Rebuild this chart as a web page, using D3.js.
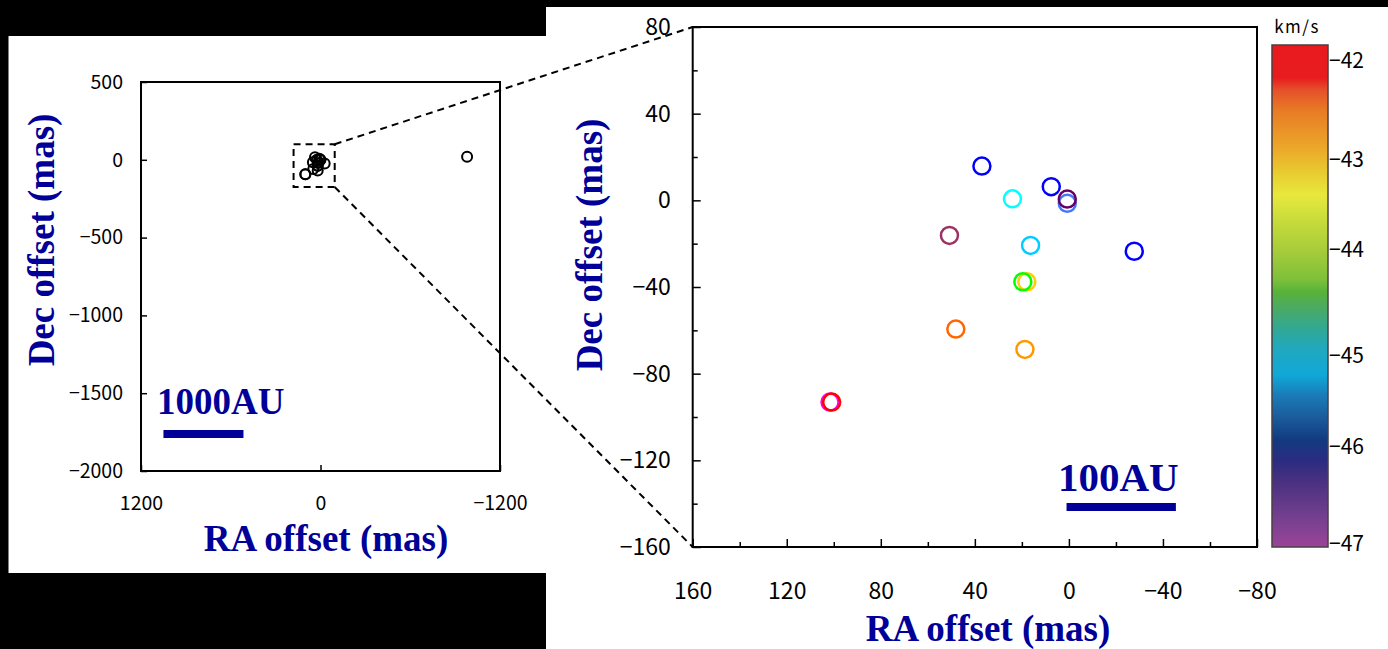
<!DOCTYPE html>
<html><head><meta charset="utf-8">
<script src="https://cdn.jsdelivr.net/npm/d3@7"></script>
<style>html,body{margin:0;padding:0;background:#000;}svg{display:block;}</style>
</head><body>
<script>
// ---- data ----
const raOffset  = [-27.8, 37.0, 24.0, 7.5, 0.7, 0.7, 50.8, 16.3, 17.9, 19.6, 48.1, 18.7, 101.6, 100.9, -980];
const decOffset = [-23.5, 15.8, 0.7, 6.3, -1.4, 0.6, -16.2, -20.8, -37.6, -37.6, -59.4, -68.8, -93.1, -93.1, 20];
const vlsr      = [-46.0, -46.0, -45.0, -46.0, -45.7, -46.5, -46.8, -45.2, -43.1, -44.3, -42.5, -42.8, -47.0, -42.0, -44.0];
const leftXTicks = [1200, 0, -1200];
const leftYTicks = [500, 0, -500, -1000, -1500, -2000];
const rightXTicks = [160, 120, 80, 40, 0, -40, -80];
const rightXMinor = [140, 100, 60, 20, -20, -60];
const rightYTicks = [80, 40, 0, -40, -80, -120, -160];
const rightYMinor = [60, 20, -20, -60, -100, -140];
const cbTicks = [-42, -43, -44, -45, -46, -47];

const W = 1388, H = 649;
const svg = d3.select("body").append("svg").attr("width", W).attr("height", H);
svg.append("rect").attr("width", W).attr("height", H).attr("fill", "#000");
svg.append("rect").attr("x", 8.5).attr("y", 36).attr("width", 546 - 8.5).attr("height", 573 - 36).attr("fill", "#fff");
svg.append("rect").attr("x", 546).attr("y", 7).attr("width", W - 546).attr("height", H - 7).attr("fill", "#fff");

const tickFont = "'Noto Sans CJK JP', 'DejaVu Sans', sans-serif";
const titleFont = "'Liberation Serif', 'Times New Roman', serif";
const navy = "#000099";

// ---- scales ----
const xL = d3.scaleLinear().domain([1200, -1200]).range([141, 500]);
const yL = d3.scaleLinear().domain([500, -2000]).range([82, 471]);
const xR = d3.scaleLinear().domain([160, -80]).range([692.7, 1257]);
const yR = d3.scaleLinear().domain([80, -160]).range([27, 547]);
const cbY = d3.scaleLinear().domain(cbTicks).range([60.5, 160, 249.5, 355.5, 446.5, 543.5]);

const markerColor = d3.scaleLinear()
  .domain([-42, -42.5, -42.8, -43.1, -44.3, -45.0, -45.2, -45.7, -46.0, -46.5, -46.8, -47.0])
  .range(["#ff0000","#ff6600","#ff9900","#ffcc00","#00ff00","#00ffff","#00ccff","#4477ff","#0000ff","#660066","#993366","#ff00ff"])
  .clamp(true);

const pts = raOffset.map((r, i) => ({ra: r, dec: decOffset[i], v: vlsr[i]}));

// ---- left panel ----
const gL = svg.append("g");
gL.append("g").attr("transform", `translate(0,${yL(-2000)})`)
  .call(d3.axisBottom(xL).tickValues(leftXTicks).tickSize(-6).tickPadding(25).tickFormat(d => String(d).replace("-", "−")))
  .call(g => g.select(".domain").remove());
gL.append("g").attr("transform", `translate(${xL(1200)},0)`)
  .call(d3.axisLeft(yL).tickValues(leftYTicks).tickSize(-6).tickPadding(18).tickFormat(d => String(d).replace("-", "−")))
  .call(g => g.select(".domain").remove());
gL.selectAll(".tick line").attr("stroke", "#000").attr("stroke-width", 1.5);
gL.selectAll(".tick text").attr("font-family", tickFont).attr("font-size", 19.5).attr("fill", "#000");
gL.append("rect").attr("x", xL(1200)).attr("y", yL(500)).attr("width", xL(-1200) - xL(1200)).attr("height", yL(-2000) - yL(500))
  .attr("fill", "none").attr("stroke", "#000").attr("stroke-width", 2);

gL.selectAll("circle.pt").data(pts).join("circle").attr("class", "pt")
  .attr("cx", d => xL(d.ra)).attr("cy", d => yL(d.dec)).attr("r", 5)
  .attr("fill", "none").attr("stroke", "#000").attr("stroke-width", 2);

// zoom box
const boxRA = [180, -95], boxDec = [100, -175];
gL.append("rect").attr("x", xL(boxRA[0])).attr("y", yL(boxDec[0]))
  .attr("width", xL(boxRA[1]) - xL(boxRA[0])).attr("height", yL(boxDec[1]) - yL(boxDec[0]))
  .attr("fill", "none").attr("stroke", "#000").attr("stroke-width", 2).attr("stroke-dasharray", "7,5");

// scale bar left
gL.append("text").attr("x", 157).attr("y", 414).text("1000AU")
  .attr("font-family", titleFont).attr("font-weight", "bold").attr("font-size", 37).attr("fill", navy);
gL.append("rect").attr("x", xL(1050)).attr("y", 430).attr("width", xL(515) - xL(1050)).attr("height", 8).attr("fill", navy);

gL.append("text").attr("x", 326).attr("y", 551).attr("text-anchor", "middle").text("RA offset (mas)")
  .attr("font-family", titleFont).attr("font-weight", "bold").attr("font-size", 37).attr("fill", navy);
gL.append("text").attr("transform", "translate(54,240) rotate(-90)").attr("text-anchor", "middle").text("Dec offset (mas)")
  .attr("font-family", titleFont).attr("font-weight", "bold").attr("font-size", 37).attr("fill", navy);

// ---- right panel ----
const gR = svg.append("g");
gR.append("g").attr("transform", `translate(0,${yR(-160)})`)
  .call(d3.axisBottom(xR).tickValues(rightXTicks).tickSize(-8).tickPadding(36).tickFormat(d => String(d).replace("-", "−")))
  .call(g => g.select(".domain").remove());
gR.append("g").attr("transform", `translate(0,${yR(-160)})`)
  .call(d3.axisBottom(xR).tickValues(rightXMinor).tickSize(-5).tickFormat(""))
  .call(g => g.select(".domain").remove());
gR.append("g").attr("transform", `translate(${xR(160)},0)`)
  .call(d3.axisLeft(yR).tickValues(rightYTicks).tickSize(-8).tickPadding(22).tickFormat(d => String(d).replace("-", "−")))
  .call(g => g.select(".domain").remove());
gR.append("g").attr("transform", `translate(${xR(160)},0)`)
  .call(d3.axisLeft(yR).tickValues(rightYMinor).tickSize(-5).tickFormat(""))
  .call(g => g.select(".domain").remove());
gR.selectAll(".tick line").attr("stroke", "#000").attr("stroke-width", 1.5);
gR.selectAll(".tick text").attr("font-family", tickFont).attr("font-size", 23).attr("fill", "#000");
gR.append("rect").attr("x", xR(160)).attr("y", yR(80)).attr("width", xR(-80) - xR(160)).attr("height", yR(-160) - yR(80))
  .attr("fill", "none").attr("stroke", "#000").attr("stroke-width", 2);

const inR = pts.filter(d => d.ra <= 160 && d.ra >= -80 && d.dec <= 80 && d.dec >= -160);
gR.selectAll("circle.pt").data(inR).join("circle").attr("class", "pt")
  .attr("cx", d => xR(d.ra)).attr("cy", d => yR(d.dec)).attr("r", 8.5)
  .attr("fill", "none").attr("stroke", d => markerColor(d.v)).attr("stroke-width", 2.5);

gR.append("text").attr("x", 1058).attr("y", 491).text("100AU")
  .attr("font-family", titleFont).attr("font-weight", "bold").attr("font-size", 41).attr("fill", navy);
gR.append("rect").attr("x", xR(1)).attr("y", 503).attr("width", xR(-45.5) - xR(1)).attr("height", 8).attr("fill", navy);

gR.append("text").attr("x", 988).attr("y", 641).attr("text-anchor", "middle").text("RA offset (mas)")
  .attr("font-family", titleFont).attr("font-weight", "bold").attr("font-size", 37).attr("fill", navy);
gR.append("text").attr("transform", "translate(602,245) rotate(-90)").attr("text-anchor", "middle").text("Dec offset (mas)")
  .attr("font-family", titleFont).attr("font-weight", "bold").attr("font-size", 37).attr("fill", navy);

// ---- colorbar ----
const cbX = 1272, cbW = 56, cbTop = 45, cbBot = 547;
const defs = svg.append("defs");
const grad = defs.append("linearGradient").attr("id", "cbgrad").attr("gradientUnits", "userSpaceOnUse")
  .attr("x1", 0).attr("y1", cbTop).attr("x2", 0).attr("y2", cbBot);
const stops = [
  [45, "#e81a1e"], [78, "#e81c1e"], [90, "#e5502a"], [110, "#e87a25"], [130, "#ea9228"], [150, "#ecaa2a"],
  [170, "#e8c82f"], [195, "#e8e83e"], [220, "#c8dc3a"], [250, "#a8cc3a"], [280, "#7cc03a"], [292, "#58b23a"],
  [310, "#48aa68"], [330, "#30a898"], [350, "#20a8c0"], [375, "#10a8d8"], [395, "#1a7cb8"], [420, "#1a5898"],
  [440, "#123a80"], [460, "#2a2c80"], [480, "#483080"], [500, "#603888"], [520, "#784090"], [547, "#9a4498"]
];
stops.forEach(s => grad.append("stop").attr("offset", (s[0] - cbTop) / (cbBot - cbTop)).attr("stop-color", s[1]));
svg.append("rect").attr("x", cbX).attr("y", cbTop).attr("width", cbW).attr("height", cbBot - cbTop)
  .attr("fill", "url(#cbgrad)").attr("stroke", "#4a4040").attr("stroke-width", 1.5);
svg.append("g").selectAll("text").data(cbTicks).join("text")
  .attr("x", cbX + cbW + 1).attr("y", d => cbY(d)).attr("dy", "0.35em")
  .text(d => String(d).replace("-", "−"))
  .attr("font-family", tickFont).attr("font-size", 21).attr("fill", "#000");
svg.append("text").attr("x", 1297).attr("y", 33).attr("text-anchor", "middle").text("km/s")
  .attr("font-family", tickFont).attr("font-size", 17).attr("letter-spacing", 1.5).attr("fill", "#000");

// ---- connecting dashed lines ----
const lines = [
  [xL(boxRA[1]), yL(boxDec[0]), xR(160), yR(80)],
  [xL(boxRA[1]), yL(boxDec[1]), xR(160), yR(-160)]
];
svg.append("g").selectAll("line").data(lines).join("line")
  .attr("x1", d => d[0]).attr("y1", d => d[1]).attr("x2", d => d[2]).attr("y2", d => d[3])
  .attr("stroke", "#000").attr("stroke-width", 2).attr("stroke-dasharray", "7,5");
</script>
</body></html>
